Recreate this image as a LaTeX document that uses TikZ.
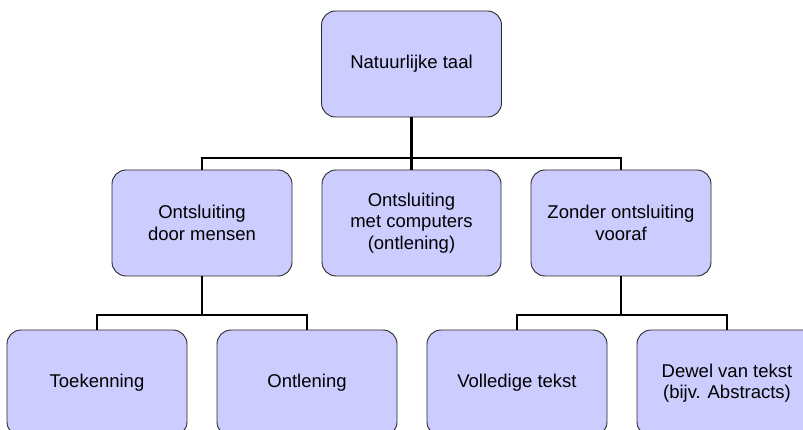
\documentclass[tikz,border=0pt]{standalone}
\usepackage{fontspec}
\setmainfont{Liberation Sans}
\definecolor{boxfill}{RGB}{204,204,255}
\definecolor{boxline}{RGB}{40,40,40}
\begin{document}
\begin{tikzpicture}[x=1pt,y=-1pt,
  box/.style={rectangle, rounded corners=14pt, draw=boxline, line width=0.9pt,
    fill=boxfill, minimum width=180pt, minimum height=106pt, inner sep=0pt,
    align=center, font=\fontsize{18.5}{21.5}\selectfont},
  conn/.style={draw=black, line width=2.4pt}]
\useasboundingbox (0,0) rectangle (803,430);
\clip (0,0) rectangle (803,430);
\fill[white] (0,0) rectangle (803,430);
\node[box] (top) at (411.5,64) {Natuurlijke taal};
\node[box] (m1) at (202,223) {Ontsluiting\\door mensen};
\node[box, minimum width=179pt] (m2) at (411.5,223) {Ontsluiting\\met computers\\(ontlening)};
\node[box] (m3) at (621,223) {Zonder ontsluiting\\vooraf};
\node[box] (b1) at (97,383) {Toekenning};
\node[box] (b2) at (307,383) {Ontlening};
\node[box] (b3) at (517,383) {Volledige tekst};
\node[box] (b4) at (727,383) {Dewel van tekst\\(bijv. Abstracts)};
\coordinate (bus1) at (0,158);
\coordinate (bus2) at (0,315);
\draw[conn] (top.south) -- (top.south |- bus1) -| (m1.north);
\draw[conn] (top.south |- bus1) -| (m3.north);
\draw[conn] (top.south) -- (m2.north);
\draw[conn] (m1.south) -- (m1.south |- bus2) -| (b1.north);
\draw[conn] (m1.south |- bus2) -| (b2.north);
\draw[conn] (m3.south) -- (m3.south |- bus2) -| (b3.north);
\draw[conn] (m3.south |- bus2) -| (b4.north);
\end{tikzpicture}
\end{document}
